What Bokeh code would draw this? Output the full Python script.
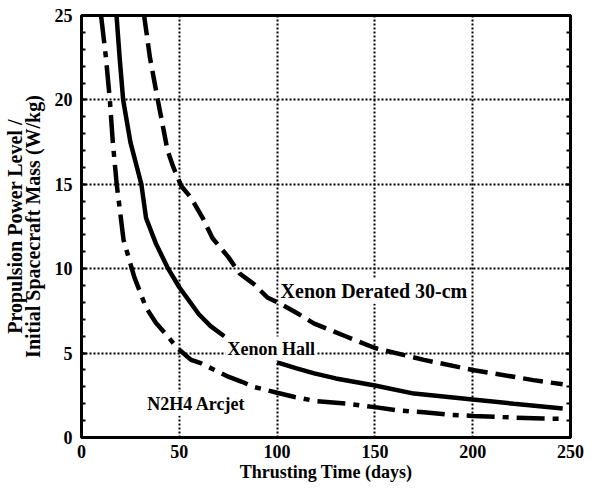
from bokeh.plotting import figure
from bokeh.models import Range1d, FixedTicker, LinearAxis, Label
from bokeh.embed import file_html
from bokeh.resources import INLINE

x_ticks = [0, 50, 100, 150, 200, 250]
y_ticks = [0, 5, 10, 15, 20, 25]
y_minor = list(range(0, 26))

# Xenon Hall (solid), two pieces separated by the label
hall_days_a = [17.9, 19.5, 21.3, 25, 30.6, 33, 38, 44.3, 50, 60, 66, 73]
hall_power_a = [25, 22.5, 20, 17.5, 15, 13, 11.5, 10, 8.9, 7.3, 6.6, 6.0]
hall_days_b = [100, 110, 119, 130, 150, 170, 200, 221, 246]
hall_power_b = [4.45, 4.1, 3.8, 3.5, 3.08, 2.6, 2.25, 2.0, 1.72]

# Xenon Derated 30-cm (dashed)
derated_days = [32, 35, 39, 42, 44, 47, 51, 56, 62, 67, 75, 81, 88, 95, 102, 109,
                119, 135, 150, 175, 200, 231, 246]
derated_power = [25, 22.5, 20, 18.2, 17, 16, 14.9, 14.2, 13, 11.8, 10.7, 9.7, 9.1,
                 8.3, 7.9, 7.45, 6.75, 6.0, 5.3, 4.6, 4.0, 3.4, 3.15]

# N2H4 Arcjet (dash-dot)
arcjet_days = [10, 12.5, 14.5, 16, 18, 21.5, 24, 27, 33, 38, 44, 49, 56, 61, 75,
               82, 88, 100, 109, 120, 136, 150, 162, 175, 188, 200, 221, 236, 246]
arcjet_power = [25, 22.5, 20, 17.5, 15, 11.7, 10.7, 9.5, 7.7, 6.8, 6.0, 5.3, 4.6,
                4.4, 3.6, 3.3, 3.0, 2.65, 2.4, 2.15, 2.0, 1.8, 1.6, 1.5, 1.35, 1.28,
                1.18, 1.12, 1.1]

FONT = "Liberation Serif"

p = figure(width=598, height=489, output_backend="svg", toolbar_location=None,
           x_range=Range1d(0, 250), y_range=Range1d(0, 25),
           min_border_left=80, min_border_right=28, min_border_top=15,
           min_border_bottom=52)
p.background_fill_color = "white"
p.border_fill_color = "white"
p.outline_line_color = "black"
p.outline_line_width = 3

p.xaxis.ticker = FixedTicker(ticks=x_ticks)
p.yaxis.ticker = FixedTicker(ticks=y_ticks, minor_ticks=y_minor)
p.xgrid.ticker = FixedTicker(ticks=x_ticks)
p.ygrid.ticker = FixedTicker(ticks=y_ticks)
for g in (p.xgrid, p.ygrid):
    g.grid_line_color = "black"
    g.grid_line_dash = "2 2"
    g.grid_line_width = 2
    g.grid_line_alpha = 1.0

p.xaxis.axis_label = "Thrusting Time (days)"
p.yaxis.axis_label = "Propulsion Power Level /\nInitial Spacecraft Mass (W/kg)"
for ax in (p.xaxis, p.yaxis):
    ax.axis_line_width = 3
    ax.axis_line_color = "black"
    ax.major_label_text_font = FONT
    ax.major_label_text_font_style = "bold"
    ax.major_label_text_font_size = "18px"
    ax.major_label_text_color = "black"
    ax.axis_label_text_font = FONT
    ax.axis_label_text_font_style = "bold"
    ax.axis_label_text_font_size = "18px"
    ax.axis_label_text_color = "black"
    ax.major_tick_line_width = 2
    ax.minor_tick_line_width = 2
    ax.major_tick_out = 0
    ax.minor_tick_out = 0
p.xaxis.major_tick_in = 0
p.xaxis.minor_tick_in = 0
p.xaxis.major_label_standoff = 7
p.xaxis.axis_label_standoff = 1
p.yaxis.major_tick_in = 5
p.yaxis.minor_tick_in = 4
p.yaxis.major_label_standoff = 9
p.yaxis.axis_label_standoff = 8
p.yaxis.axis_label_text_font_size = "20px"
p.yaxis.axis_label_text_line_height = 0.8

right = LinearAxis(ticker=FixedTicker(ticks=y_ticks, minor_ticks=y_minor),
                   major_label_overrides={t: "" for t in y_ticks},
                   axis_line_width=3,
                   major_tick_in=5, major_tick_out=0, minor_tick_in=4,
                   minor_tick_out=0, major_tick_line_width=2,
                   minor_tick_line_width=2, major_label_standoff=0)
p.add_layout(right, "right")

p.line(hall_days_a, hall_power_a, line_color="black", line_width=4.5)
p.line(hall_days_b, hall_power_b, line_color="black", line_width=4.5)
p.line(derated_days, derated_power, line_color="black", line_width=4.5,
       line_dash="20 8")
p.line(arcjet_days, arcjet_power, line_color="black", line_width=4.5,
       line_dash="28 8 6 8")

label_texts = ["Xenon Derated 30-cm", "Xenon Hall", "N2H4 Arcjet"]
label_x = [149.5, 97, 58.7]
label_y = [8.7, 5.27, 2.0]
label_sizes = ["20px", "18px", "18px"]
for t, lx, ly, fs in zip(label_texts, label_x, label_y, label_sizes):
    p.add_layout(Label(x=lx, y=ly, text=t, text_align="center",
                       text_baseline="middle", text_font=FONT,
                       text_font_style="bold", text_font_size=fs,
                       text_color="black", background_fill_color="white",
                       padding=2))

open("out.html", "w").write(file_html(p, INLINE))
